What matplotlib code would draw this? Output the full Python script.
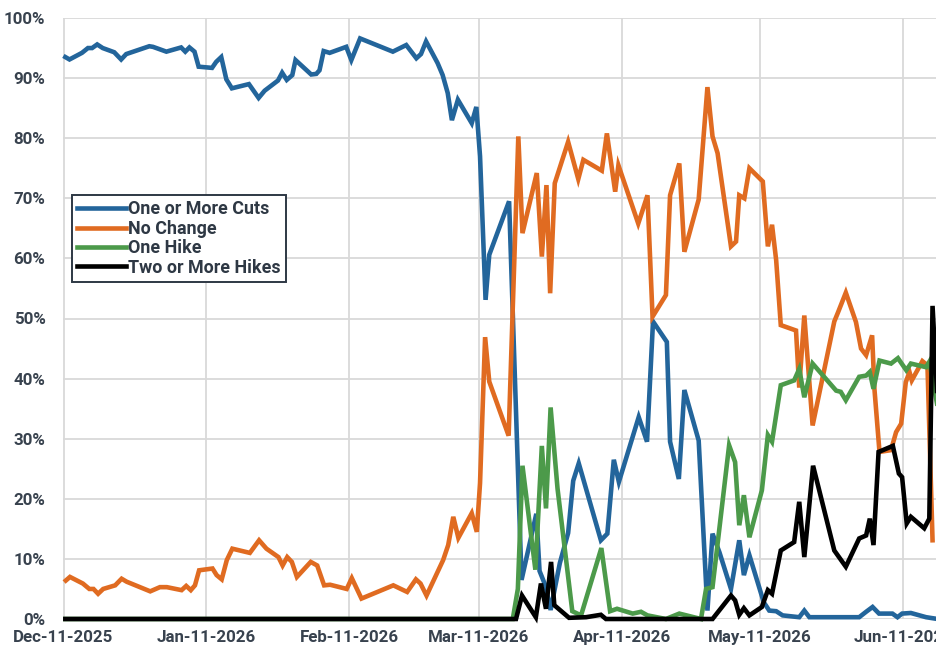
import matplotlib.pyplot as plt
import matplotlib.dates as mdates
import pandas as pd

# x values are days after Dec-11-2025, y values are probabilities in %
start = pd.Timestamp('2025-12-11')

cuts_day = [0.4, 1.3, 4.0, 5.3, 6.2, 7.3, 8.5, 11.0, 12.5, 13.6,
            18.6, 19.4, 22.3, 25.5, 26.4, 27.3, 28.4, 29.3, 32.2, 33.1,
            34.2, 35.3, 36.5, 40.2, 42.3, 43.6, 46.5, 47.4, 48.4, 49.6,
            50.3, 53.7, 54.8, 55.5, 56.4, 57.7, 61.3, 62.4, 64.3, 71.4,
            74.3, 76.5, 77.5, 78.6, 81.1, 82.2, 83.3, 84.2, 85.5, 88.5,
            89.5, 90.3, 91.5, 92.3, 96.6, 99.3, 102.5, 103.2, 104.5, 105.6,
            107.6, 109.4, 110.5, 111.7, 116.5, 117.9, 119.3, 120.4, 124.7, 126.5,
            127.8, 130.8, 131.5, 133.4, 134.6, 137.7, 139.6, 140.7, 142.2, 144.7,
            146.5, 147.5, 148.7, 151.8, 153.0, 154.5, 155.9, 159.5, 160.6, 161.7,
            172.5, 174.0, 175.4, 176.8, 179.7, 180.8, 181.8, 183.7, 187.0, 189.5]
cuts = [93.5, 93.1, 94.2, 95.0, 95.0, 95.6, 95.0, 94.3, 93.1, 94.0,
        95.3, 95.2, 94.4, 95.1, 94.4, 95.1, 94.4, 91.9, 91.7, 92.7,
        93.5, 89.8, 88.3, 89.0, 86.7, 87.9, 89.6, 90.9, 89.7, 90.5,
        93.0, 90.6, 90.7, 91.3, 94.5, 94.2, 95.2, 93.0, 96.6, 94.4,
        95.5, 93.3, 94.0, 96.1, 92.5, 90.5, 87.5, 83.0, 86.4, 82.5,
        85.2, 77.0, 53.1, 60.6, 69.5, 6.5, 17.5, 8.0, 5.5, 1.5,
        9.3, 14.3, 23.0, 25.9, 13.1, 14.2, 26.5, 22.8, 33.6, 29.5,
        49.5, 46.1, 29.5, 23.3, 38.1, 29.7, 1.4, 14.2, 11.1, 5.0,
        13.1, 7.3, 10.6, 2.8, 1.4, 1.3, 0.6, 0.3, 1.4, 0.3,
        0.3, 1.2, 2.0, 0.9, 0.9, 0.3, 0.9, 1.0, 0.3, 0.0]

nochg_day = [0.5, 1.4, 4.2, 5.6, 6.5, 7.5, 8.6, 11.2, 12.6, 13.7,
             18.8, 20.9, 22.4, 25.6, 26.6, 27.6, 28.5, 29.4, 32.3, 33.2,
             34.3, 35.4, 36.6, 40.4, 42.4, 44.0, 46.6, 47.5, 48.5, 49.5,
             50.6, 53.6, 55.0, 56.5, 57.8, 61.4, 62.5, 64.6, 71.5, 74.5,
             76.4, 77.4, 78.7, 82.3, 83.4, 84.5, 85.6, 88.5, 89.6, 90.3,
             91.4, 92.3, 96.5, 98.6, 99.5, 102.6, 103.7, 104.7, 105.5, 106.5,
             109.4, 111.6, 112.7, 116.7, 117.8, 119.6, 120.3, 124.6, 126.6, 127.7,
             130.6, 131.5, 133.5, 134.6, 137.7, 139.6, 140.7, 141.8, 144.7, 145.8,
             146.5, 147.6, 148.7, 151.6, 152.7, 153.6, 154.5, 155.5, 158.8, 159.5,
             160.6, 162.4, 167.1, 167.9, 169.6, 171.8, 172.9, 174.0, 175.3, 175.8,
             176.9, 179.4, 180.5, 181.6, 182.6, 183.4, 183.9, 186.2, 187.3, 188.4]
nochg = [6.4, 7.0, 5.9, 5.0, 5.0, 4.2, 5.0, 5.6, 6.7, 6.2,
         4.6, 5.3, 5.3, 4.8, 5.5, 4.8, 5.6, 8.1, 8.4, 7.3,
         6.6, 9.8, 11.7, 11.0, 13.1, 11.7, 10.3, 8.9, 10.3, 9.5,
         7.0, 9.5, 8.9, 5.6, 5.7, 5.0, 6.8, 3.4, 5.6, 4.5,
         6.6, 5.9, 3.9, 9.8, 12.3, 17.0, 13.5, 17.6, 14.5, 22.6,
         46.9, 39.5, 30.5, 80.3, 64.2, 74.2, 60.3, 72.2, 54.2, 72.5,
         79.4, 73.2, 76.4, 74.6, 80.8, 71.1, 75.5, 65.8, 70.5, 50.3,
         53.9, 70.5, 75.8, 61.1, 69.8, 88.5, 80.3, 77.5, 62.0, 62.8,
         70.5, 70.0, 75.0, 72.8, 62.0, 65.6, 59.7, 48.9, 48.0, 38.5,
         50.5, 32.2, 49.5, 51.0, 54.3, 49.4, 45.0, 43.9, 47.2, 38.3,
         27.8, 28.1, 31.1, 32.5, 39.4, 41.1, 39.7, 42.9, 42.2, 13.1]

hike_day = [0.4, 97.4, 98.5, 99.5, 102.3, 103.7, 104.6, 105.6, 107.1, 110.3,
            112.2, 116.6, 118.5, 120.0, 123.4, 125.2, 126.6, 130.6, 133.5, 138.2,
            139.3, 140.7, 144.3, 145.6, 146.5, 147.5, 148.7, 151.4, 152.7, 153.6,
            155.5, 158.4, 159.5, 160.6, 162.4, 167.5, 168.5, 169.6, 172.5, 174.0,
            174.8, 175.6, 176.9, 179.4, 180.9, 182.7, 183.7, 187.0, 187.7, 189.5]
hike = [0, 0, 5.0, 25.5, 8.2, 28.8, 18.4, 35.2, 21.7, 1.3,
        0.6, 11.8, 1.3, 1.7, 0.9, 1.2, 0.6, 0, 0.9, 0,
        5.0, 5.3, 28.9, 26.1, 15.6, 20.6, 13.6, 21.4, 30.6, 29.5,
        38.9, 39.7, 41.6, 36.9, 42.5, 38.0, 37.8, 36.4, 40.3, 40.5,
        41.1, 38.3, 43.0, 42.5, 43.4, 41.4, 42.5, 41.9, 42.8, 35.3]

hikes2_day = [0.4, 98.1, 99.4, 102.4, 103.5, 104.6, 105.7, 106.4, 109.6, 113.3,
              116.5, 117.6, 140.7, 144.7, 145.6, 146.5, 147.5, 148.7, 151.4, 152.7,
              153.6, 155.5, 158.4, 159.5, 160.6, 162.5, 167.1, 169.6, 172.5, 174.0,
              174.8, 175.6, 176.7, 179.8, 181.1, 181.8, 182.8, 183.7, 186.6, 187.7,
              188.4, 189.5]
hikes2 = [0, 0, 3.9, 0.3, 5.9, 1.7, 9.5, 2.3, 0.2, 0.3,
          0.7, 0, 0, 3.9, 3.1, 0.7, 1.8, 0.6, 2.0, 4.8,
          4.2, 11.4, 12.8, 19.5, 10.3, 25.5, 11.4, 8.7, 13.4, 13.9,
          16.7, 12.3, 27.8, 28.8, 24.2, 23.6, 15.9, 17.0, 15.1, 16.7,
          52.1, 36.0]

series = [
    ('One or More Cuts', cuts_day, cuts, '#23659b'),
    ('No Change', nochg_day, nochg, '#e06b21'),
    ('One Hike', hike_day, hike, '#4c9a4a'),
    ('Two or More Hikes', hikes2_day, hikes2, '#000000'),
]

def to_dates(days):
    return start + pd.to_timedelta(days, unit='D')

plt.rcParams['font.family'] = ['Roboto', 'DejaVu Sans']
text_col = '#38424e'

fig = plt.figure(figsize=(9.36, 6.52), dpi=100)
ax = fig.add_axes([63.5 / 936, 33 / 652, 1 - 63.5 / 936, 601 / 652])

for name, d, v, c in series:
    ax.plot(to_dates(d), v, color=c, lw=3.3, label=name, clip_on=False,
            solid_joinstyle='miter')

ax.set_ylim(0, 100)
ax.set_xlim(start, to_dates([189.15])[0])
ax.set_yticks(range(0, 101, 10))
ax.set_yticklabels([f'{t}%' for t in range(0, 101, 10)])
ax.xaxis.set_major_locator(mdates.MonthLocator(bymonthday=11))
ax.xaxis.set_major_formatter(mdates.DateFormatter('%b-%d-%Y'))

ax.grid(True, color='#d9d9d9', lw=1.3)
ax.set_axisbelow(True)
for s in ax.spines.values():
    s.set_visible(False)
ax.tick_params(length=0, labelsize=12.2, colors=text_col)
ax.tick_params(axis='y', pad=13)
ax.tick_params(axis='x', pad=8)
for lab in ax.get_xticklabels() + ax.get_yticklabels():
    lab.set_fontweight('bold')

leg = ax.legend(loc='upper left', bbox_to_anchor=(0.0097, 0.7055), borderaxespad=0,
                fancybox=False, framealpha=1, edgecolor='#2e3844',
                prop={'weight': 'bold', 'size': 12.9}, handlelength=2.7,
                handletextpad=0.15, labelspacing=0.08, borderpad=0.3)
leg.get_frame().set_linewidth(1.4)
for t in leg.get_texts():
    t.set_color('#2e3844')

fig.savefig('out.png', dpi=100)
